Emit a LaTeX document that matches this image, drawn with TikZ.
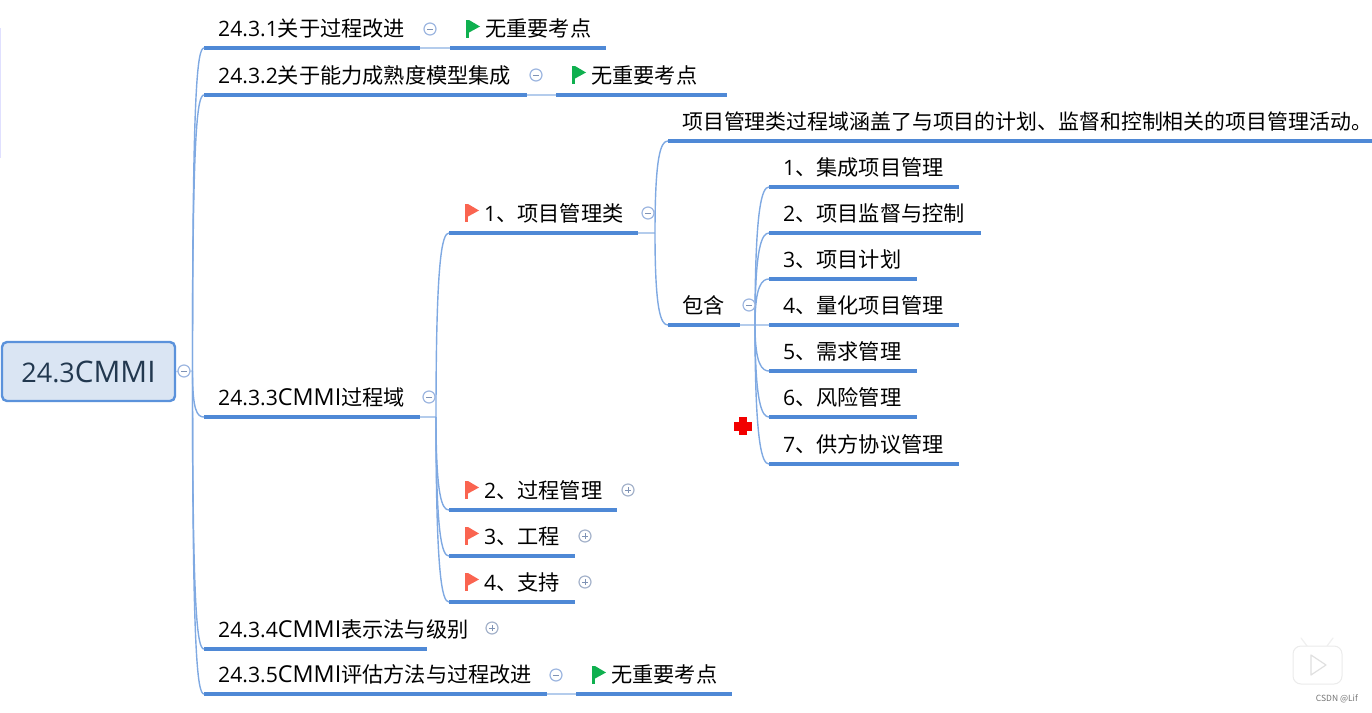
\documentclass[tikz,border=0pt]{standalone}
\usepackage{fontspec}
\setmainfont{Noto Sans CJK SC}
\newfontfamily\latfont{Open Sans}
\newfontfamily\capfont[Scale=1.1]{Open Sans}
\newcommand\lat[1]{{\latfont #1}}
\newcommand\caps[1]{{\capfont #1}}
\usetikzlibrary{calc}
\definecolor{uline}{HTML}{4F89D6}
\definecolor{curve}{HTML}{7FA9E2}
\definecolor{thin}{HTML}{B4CCEC}
\definecolor{foldc}{HTML}{9DB6E0}
\definecolor{foldd}{HTML}{7F93B5}
\definecolor{flagg}{HTML}{0FB04F}
\definecolor{flagr}{HTML}{FA6450}
\definecolor{rootf}{HTML}{DAE5F3}
\definecolor{rootd}{HTML}{5B92DB}
\definecolor{rootx}{HTML}{22384F}
\tikzset{
  topic/.style={inner sep=0pt,minimum height=38.6pt,font=\fontsize{21.2}{25}\selectfont,text=black},
  longtopic/.style={topic,font=\fontsize{20.9}{25}\selectfont},
  underl/.style={color=uline,line width=3.4pt},
  branch/.style={color=curve,line width=1.4pt},
  link/.style={color=thin,line width=1.1pt},
  foldbox/.style={circle,draw=foldc,fill=white,line width=1.2pt,minimum size=12pt,inner sep=0pt},
  plusbox/.style={circle,draw=foldd!70,fill=white,line width=1.2pt,minimum size=12pt,inner sep=0pt},
  mark line/.style={color=foldd,line width=1pt},
  rootbox/.style={draw=rootd,fill=rootf,line width=2.4pt,rounded corners=5pt,minimum width=173pt,minimum height=59pt,inner sep=0pt,font=\fontsize{27}{32}\selectfont,text=rootx},
  wm/.style={font=\fontsize{8.5}{10}\selectfont,text=black!55,inner sep=0pt}
}
\newcommand\topic[7][topic]{%
  \node[#1,anchor=south west,minimum width=#4pt] (#2) at (#3) {\makebox[#4pt][l]{\hspace{#5pt}#6}};
  \draw[underl] (#2.south west) -- (#2.south east);}
\newcommand\conn[2]{%
  \draw[branch] (#1) .. controls ($(#1)!0.86!(#1 |- #2.south west)$) and ($(#2.south west)+(-7,0)$) .. (#2.south west);}
\newcommand\foldminus[3]{%
  \node[foldbox] (#1) at (#2,#3) {};
  \draw[mark line] ($(#1.center)+(-3,0)$) -- ($(#1.center)+(3,0)$);}
\newcommand\foldplus[3]{%
  \node[plusbox] (#1) at (#2,#3) {};
  \draw[mark line] ($(#1.center)+(-3,0)$) -- ($(#1.center)+(3,0)$);
  \draw[mark line] ($(#1.center)+(0,-3)$) -- ($(#1.center)+(0,3)$);}
\newcommand\flagicon[3]{%
  \fill[#3] (#1,#2) rectangle (#1+3,#2+18);
  \fill[#3] (#1+3,#2) -- (#1+14,#2+6.5) -- (#1+3,#2+12.5) -- cycle;}
\begin{document}
\begin{tikzpicture}[x=1pt,y=-1pt]
\useasboundingbox (0,0) rectangle (1372,712);
\fill[blue!12] (0,28) rectangle (1.2,158);

\node[rootbox] (root) at (88.5,371.5) {\lat{24.3}\caps{CMMI}};
\coordinate (j0) at (192.5,371);
\draw[link] (root.east) -- (j0);

% level 1
\topic{t1}{204,48}{216}{14}{\lat{24.3.1}关于过程改进}{}
\topic{t1f}{450,48}{156}{35}{无重要考点}{}
\topic{t2}{204,95}{323}{14}{\lat{24.3.2}关于能力成熟度模型集成}{}
\topic{t2f}{556,95}{171}{35}{无重要考点}{}
\topic{t3}{204,417}{216}{14}{\lat{24.3.3}\caps{CMMI}过程域}{}
\topic{t4}{204,649}{223}{14}{\lat{24.3.4}\caps{CMMI}表示法与级别}{}
\topic{t5}{204,694}{343}{14}{\lat{24.3.5}\caps{CMMI}评估方法与过程改进}{}
\topic{t5f}{576,694}{156}{35}{无重要考点}{}
\draw[link] (t1.south east) -- (t1f.south west);
\draw[link] (t2.south east) -- (t2f.south west);
\draw[link] (t5.south east) -- (t5f.south west);
\foreach \n in {t1,t2,t3,t4,t5} {\conn{j0}{\n}}

% level 2
\topic{a1}{449,233}{189}{35}{\lat{1}、项目管理类}{}
\topic{a2}{449,510}{168}{35}{\lat{2}、过程管理}{}
\topic{a3}{449,556}{126}{35}{\lat{3}、工程}{}
\topic{a4}{449,602}{126}{35}{\lat{4}、支持}{}
\coordinate (j1) at (436,417);
\draw[link] (t3.south east) -- (j1);
\foreach \n in {a1,a2,a3,a4} {\conn{j1}{\n}}

% level 3
\topic[longtopic]{b1}{668,141}{704}{14}{项目管理类过程域涵盖了与项目的计划、监督和控制相关的项目管理活动。}{}
\topic{b2}{668,325}{72}{14}{包含}{}
\coordinate (j2) at (655,233);
\draw[link] (a1.south east) -- (j2);
\conn{j2}{b1}
\conn{j2}{b2}

% level 4
\topic{c1}{769,187}{190}{14}{\lat{1}、集成项目管理}{}
\topic{c2}{769,233}{212}{14}{\lat{2}、项目监督与控制}{}
\topic{c3}{769,279}{148}{14}{\lat{3}、项目计划}{}
\topic{c4}{769,325}{190}{14}{\lat{4}、量化项目管理}{}
\topic{c5}{769,371}{148}{14}{\lat{5}、需求管理}{}
\topic{c6}{769,417}{148}{14}{\lat{6}、风险管理}{}
\topic{c7}{769,464}{190}{14}{\lat{7}、供方协议管理}{}
\coordinate (j3) at (755,325);
\draw[link] (b2.south east) -- (c4.south west);
\foreach \n in {c1,c2,c3,c5,c6,c7} {\conn{j3}{\n}}

% fold marks
\foldminus{f0}{184}{371}
\foldminus{f1}{430}{29}
\foldminus{f2}{536}{75}
\foldminus{f3}{429}{397}
\foldminus{f5}{556}{675}
\foldminus{f6}{648}{213}
\foldminus{f7}{749}{305}
\foldplus{p1}{628}{490}
\foldplus{p2}{585}{536}
\foldplus{p3}{585}{582}
\foldplus{p4}{492}{628}

% flags
\flagicon{466}{20}{flagg}
\flagicon{572}{66}{flagg}
\flagicon{592}{666}{flagg}
\flagicon{465}{204}{flagr}
\flagicon{465}{481}{flagr}
\flagicon{465}{527}{flagr}
\flagicon{465}{573}{flagr}

% red cross
\fill[red!95!black] (739,417) rectangle (747,435);
\fill[red!95!black] (734,421.5) rectangle (752,430.5);

% watermark
\draw[black!6,line width=1.3pt,line cap=round] (1307,646) -- (1301,638);
\draw[black!6,line width=1.3pt,line cap=round] (1327,646) -- (1333,638);
\draw[black!8,fill=white,line width=1pt,rounded corners=8pt] (1293,646) rectangle (1342,684);
\draw[black!12,line width=1.2pt,line join=round] (1311,655) -- (1326,665) -- (1311,675) -- cycle;
\node[wm,anchor=east] (wmk) at (1358,699) {CSDN @Lif};
\end{tikzpicture}
\end{document}
